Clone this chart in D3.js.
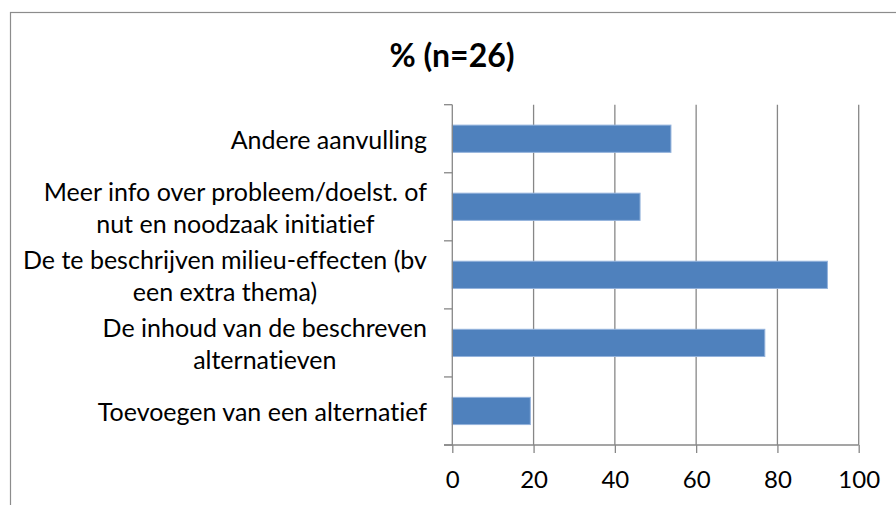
<!DOCTYPE html>
<html><head><meta charset="utf-8">
<script src="https://cdn.jsdelivr.net/npm/d3@7"></script>
<style>html,body{margin:0;padding:0;background:#fff;overflow:hidden} text{font-variant-ligatures:none}</style>
</head><body>
<script>
const categories = [
  ["Andere aanvulling"],
  ["Meer info over probleem/doelst. of", "nut en noodzaak initiatief"],
  ["De te beschrijven milieu-effecten (bv", "een extra thema)"],
  ["De inhoud van de beschreven", "alternatieven"],
  ["Toevoegen van een alternatief"]
];
const values = [53.8, 46.2, 92.3, 76.9, 19.2];
const xTicks = [0, 20, 40, 60, 80, 100];
const title = "% (n=26)";

const W = 896, H = 505;
const FONT = "Lato, 'Open Sans', sans-serif";
const svg = d3.select("body").append("svg").attr("width", W).attr("height", H);

svg.append("rect").attr("x", 10.5).attr("y", 12.5).attr("width", 900).attr("height", 500)
  .attr("fill", "none").attr("stroke", "#8c8c8c").attr("stroke-width", 1.2);

svg.append("text").attr("x", 452).attr("y", 67).attr("text-anchor", "middle")
  .attr("font-family", FONT).attr("font-weight", "bold").attr("font-size", 32)
  .attr("fill", "#000").text(title);

const x = d3.scaleLinear().domain([0, 100]).range([452.3, 858.7]);
const ids = categories.map((d, i) => i);
const y = d3.scaleBand().domain(ids).range([104.7, 445]).paddingInner(0.6).paddingOuter(0.3);
const yb = d3.scaleBand().domain(ids).range([104.7, 445]);

const gridColor = "#878787";
svg.append("g").selectAll("line").data(xTicks.slice(1)).join("line")
  .attr("x1", d => x(d)).attr("x2", d => x(d)).attr("y1", 104.7).attr("y2", 445)
  .attr("stroke", gridColor).attr("stroke-width", 1.3);

svg.append("g").selectAll("rect").data(values).join("rect")
  .attr("x", x(0)).attr("y", (d, i) => y(i))
  .attr("width", d => x(d) - x(0)).attr("height", y.bandwidth())
  .attr("fill", "#4f81bd").attr("stroke", "#94b3dc").attr("stroke-width", 1);

const xAxis = d3.axisBottom(x).tickValues(xTicks).tickSize(8).tickSizeOuter(0).tickFormat(d3.format("d"));
const gx = svg.append("g").attr("transform", "translate(0,445)").call(xAxis);
gx.select(".domain").remove();
gx.append("line").attr("x1", 444).attr("x2", x(100)).attr("y1", 0).attr("y2", 0)
  .attr("stroke", gridColor).attr("stroke-width", 1.3);
gx.selectAll(".tick line").attr("stroke", gridColor).attr("stroke-width", 1.3);
gx.selectAll(".tick text").attr("font-family", FONT).attr("font-size", 24).attr("fill", "#000").attr("dy", null).attr("y", 43);

svg.append("line").attr("x1", x(0)).attr("x2", x(0)).attr("y1", 104.7).attr("y2", 445)
  .attr("stroke", gridColor).attr("stroke-width", 1.3);
const bounds = ids.map(i => yb(i)).concat([445]);
svg.append("g").selectAll("line").data(bounds).join("line")
  .attr("x1", 444).attr("x2", x(0)).attr("y1", d => d).attr("y2", d => d)
  .attr("stroke", gridColor).attr("stroke-width", 1.3);

const lh = 32;
const gl = svg.append("g");
categories.forEach((lines, i) => {
  const cy = yb(i) + yb.bandwidth() / 2;
  const g = gl.append("g");
  const ts = lines.map((t, j) => g.append("text")
    .attr("font-family", FONT).attr("font-size", 25).attr("fill", "#000")
    .attr("text-anchor", "middle").attr("dominant-baseline", "central")
    .attr("y", cy + (j - (lines.length - 1) / 2) * lh).text(t));
  const bw = d3.max(ts, t => t.node().getComputedTextLength());
  ts.forEach(t => t.attr("x", 427 - bw / 2));
});
</script>
</body></html>
